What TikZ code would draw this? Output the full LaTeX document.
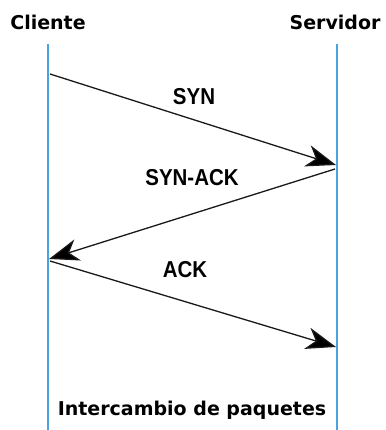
\documentclass[tikz,border=0pt]{standalone}
\usepackage{fontspec}
\setmainfont{Liberation Sans}
\newfontfamily\hdrfont{DejaVu Sans}
\newfontfamily\condfont[FakeStretch=0.89]{Liberation Sans}
\usetikzlibrary{arrows.meta}
\definecolor{lineblue}{HTML}{4AA3DF}
\begin{document}
\begin{tikzpicture}[x=1pt,y=-1pt,
  lifeline/.style={draw=lineblue,line width=2pt},
  msg/.style={draw=black!90,line width=1.3pt,-{Stealth[length=30pt,width=22pt,inset=9pt,fill=black]}},
  hdr/.style={font=\hdrfont\bfseries\fontsize{19}{22}\selectfont,inner sep=0pt},
  lbl/.style={font=\condfont\bfseries\fontsize{23}{26}\selectfont,inner sep=0pt}]
\useasboundingbox (0,0) rectangle (385,430);
\node[hdr] (cli) at (48,22) {Cliente};
\node[hdr] (srv) at (335,22) {Servidor};
\coordinate (ctop) at (47.5,44);
\coordinate (cbot) at (47.5,430);
\coordinate (stop) at (336.5,44);
\coordinate (sbot) at (336.5,430);
\draw[lifeline] (ctop) -- (cbot);
\draw[lifeline] (stop) -- (sbot);
\coordinate (c1) at (50,74);
\coordinate (s1) at (336,165);
\coordinate (s2) at (335,169);
\coordinate (c2) at (49,259);
\coordinate (c3) at (50,261);
\coordinate (s3) at (336,347);
\draw[msg] (c1) -- (s1);
\draw[msg] (s2) -- (c2);
\draw[msg] (c3) -- (s3);
\node[lbl] (syn) at (194,97) {SYN};
\node[lbl] (synack) at (192,178) {SYN-ACK};
\node[lbl] (ack) at (185,270) {ACK};
\node[hdr] (foot) at (192,410) {Intercambio de paquetes};
\end{tikzpicture}
\end{document}
